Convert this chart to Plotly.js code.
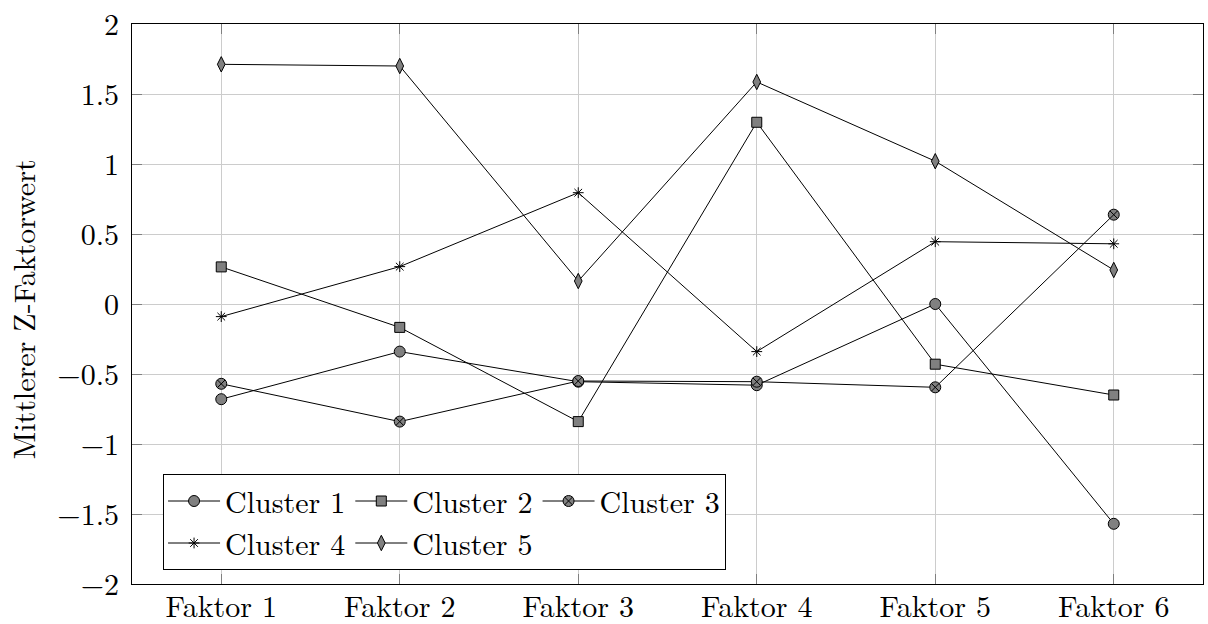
<!DOCTYPE html>
<html>
<head>
<meta charset="utf-8">
<script src="https://cdn.plot.ly/plotly-3.0.1.min.js"></script>
<style>html,body{margin:0;padding:0;background:#fff}#chart{width:1208px;height:624px}</style>
</head>
<body>
<div id="chart"></div>
<script>
const categories = ["Faktor 1", "Faktor 2", "Faktor 3", "Faktor 4", "Faktor 5", "Faktor 6"];
const cluster1 = [-0.68, -0.34, -0.555, -0.58, 0.00, -1.57];
const cluster2 = [0.265, -0.167, -0.84, 1.298, -0.43, -0.65];
const cluster3 = [-0.57, -0.84, -0.55, -0.555, -0.595, 0.638];
const cluster4 = [-0.09, 0.267, 0.795, -0.34, 0.445, 0.43];
const cluster5 = [1.712, 1.70, 0.164, 1.586, 1.02, 0.243];
const seriesNames = ["Cluster 1", "Cluster 2", "Cluster 3", "Cluster 4", "Cluster 5"];
const yTicks = [-2, -1.5, -1, -0.5, 0, 0.5, 1, 1.5, 2];
const yTickText = ["\u22122", "\u22121.5", "\u22121", "\u22120.5", "0", "0.5", "1", "1.5", "2"];
const yTitle = "Mittlerer Z-Faktorwert";

const FONT = "Latin Modern Roman, Liberation Serif, serif";
const styles = [
  {symbol: "circle", size: 11, group: "a", color: "#808080"},
  {symbol: "square", size: 10, group: "b", color: "#808080"},
  {symbol: "circle-x", size: 11, group: "c", color: "#808080"},
  {symbol: "asterisk-open", size: 9, group: "a", color: "#000"},
  {symbol: "diamond-tall", size: 11, group: "b", color: "#808080"}
];
const allData = [cluster1, cluster2, cluster3, cluster4, cluster5];

const traces = allData.map((vals, i) => ({
  type: "scatter",
  mode: "lines+markers",
  x: categories,
  y: vals,
  name: seriesNames[i],
  legendgroup: styles[i].group,
  line: {color: "#000", width: 1},
  marker: {
    symbol: styles[i].symbol,
    size: styles[i].size,
    color: styles[i].color,
    line: {color: "#000", width: 1}
  }
}));

const layout = {
  width: 1208,
  height: 624,
  margin: {l: 132, r: 5, t: 24, b: 40},
  paper_bgcolor: "#fff",
  plot_bgcolor: "#fff",
  font: {family: FONT, size: 30, color: "#000"},
  showlegend: true,
  legend: {
    x: 0.029, y: 0.025, xanchor: "left", yanchor: "bottom",
    orientation: "h",
    traceorder: "grouped",
    tracegroupgap: 0,
    itemwidth: 52,
    bgcolor: "#fff",
    bordercolor: "#000",
    borderwidth: 1,
    font: {family: FONT, size: 30, color: "#000"}
  },
  annotations: [{
    text: yTitle,
    xref: "paper", yref: "paper",
    x: -0.102, y: 0.49,
    xanchor: "center", yanchor: "middle",
    textangle: -90,
    showarrow: false,
    font: {family: FONT, size: 30, color: "#000"}
  }],
  xaxis: {
    type: "category",
    range: [-0.5, 5.5],
    showgrid: true,
    gridcolor: "#cccccc",
    gridwidth: 1,
    showline: true,
    linecolor: "#000",
    linewidth: 1,
    mirror: "allticks",
    ticks: "inside",
    ticklen: 10,
    tickcolor: "#808080",
    tickfont: {family: FONT, size: 30, color: "#000"},
    ticklabelstandoff: -4,
    zeroline: false,
    fixedrange: true
  },
  yaxis: {
    range: [-2, 2],
    tickvals: yTicks,
    ticktext: yTickText,
    showgrid: true,
    gridcolor: "#cccccc",
    gridwidth: 1,
    showline: true,
    linecolor: "#000",
    linewidth: 1,
    mirror: "allticks",
    ticks: "inside",
    ticklen: 10,
    tickcolor: "#808080",
    tickfont: {family: FONT, size: 30, color: "#000"},
    ticklabelstandoff: 6,
    zeroline: false,
    fixedrange: true
  }
};

Plotly.newPlot("chart", traces, layout, {displayModeBar: false, staticPlot: true});
</script>
</body>
</html>
